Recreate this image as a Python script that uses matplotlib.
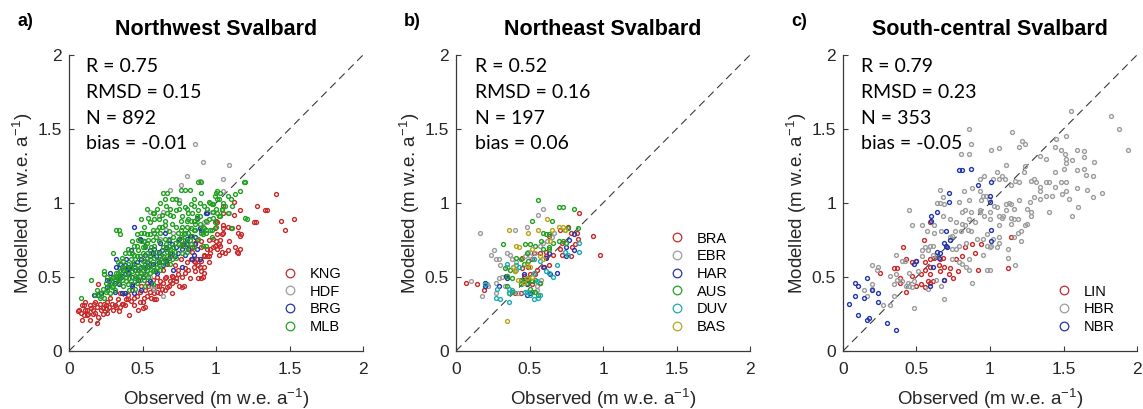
import matplotlib

matplotlib.use("Agg")

import matplotlib.pyplot as plt
import numpy as np
from matplotlib.lines import Line2D
from matplotlib.ticker import FuncFormatter

plt.rcParams["font.family"] = ["Liberation Sans", "DejaVu Sans"]
plt.rcParams["mathtext.fontset"] = "custom"
plt.rcParams["mathtext.rm"] = "Liberation Sans"
plt.rcParams["mathtext.default"] = "regular"

RED = "#c62a2a"
GRAY = "#9c9c9c"
BLUE = "#2436a8"
GREEN = "#23a023"
CYAN = "#1ea9b2"
OLIVE = "#b8a51e"

# ---- panel a: Northwest Svalbard (observed, modelled) ----
KNG = [
    (1.41, 1.06), (1.53, 0.89), (1.47, 0.82), (1.44, 0.88), (1.35, 0.95), (1.28, 0.98),
    (1.27, 0.87), (1.16, 0.95), (1.12, 1.01), (1.12, 0.92), (1.15, 0.84), (1.17, 0.79),
    (1.16, 0.69), (1.15, 0.66), (1.13, 0.70), (1.09, 0.74), (1.08, 0.84), (1.05, 0.83),
    (1.04, 0.79), (1.03, 0.75), (1.03, 0.71), (1.06, 0.66), (1.01, 0.69), (0.99, 0.71),
    (0.95, 0.75), (0.96, 0.66), (0.95, 0.64), (0.92, 0.65), (0.90, 0.70), (0.90, 0.74),
    (0.99, 0.83), (1.01, 0.87), (1.05, 0.93), (0.92, 0.57), (0.90, 0.61), (0.88, 0.58),
    (0.91, 0.50), (0.90, 0.54), (0.92, 0.53), (0.88, 0.49), (0.85, 0.57), (0.83, 0.62),
    (0.82, 0.49), (0.79, 0.53), (0.77, 0.43), (0.75, 0.44), (0.73, 0.49), (0.71, 0.50),
    (0.69, 0.47), (0.65, 0.49), (0.65, 0.41), (0.62, 0.39), (0.61, 0.44), (0.58, 0.39),
    (0.56, 0.36), (0.59, 0.35), (0.52, 0.30), (0.50, 0.29), (0.48, 0.33), (0.44, 0.36),
    (0.41, 0.24), (0.40, 0.35), (0.38, 0.31), (0.36, 0.32), (0.33, 0.35), (0.34, 0.27),
    (0.31, 0.31), (0.28, 0.36), (0.27, 0.30), (0.25, 0.29), (0.23, 0.25), (0.22, 0.28),
    (0.20, 0.23), (0.19, 0.19), (0.19, 0.30), (0.20, 0.45), (0.18, 0.26), (0.15, 0.29),
    (0.14, 0.31), (0.13, 0.25), (0.11, 0.28), (0.10, 0.24), (0.09, 0.21), (0.08, 0.26),
    (0.07, 0.28), (0.09, 0.31), (0.14, 0.21), (0.17, 0.32), (0.24, 0.32), (0.26, 0.33),
    (0.54, 0.44), (0.77, 0.72), (0.84, 0.70), (0.87, 0.75), (0.69, 0.64), (0.67, 0.59),
    (0.64, 0.55), (0.60, 0.50), (0.57, 0.48), (0.53, 0.46), (0.49, 0.44), (0.43, 0.41),
    (0.35, 0.39), (0.67, 0.43), (0.10, 0.31), (0.06, 0.27), (0.12, 0.28), (0.16, 0.28),
    (0.21, 0.32), (0.25, 0.31), (0.29, 0.32), (0.32, 0.30), (0.37, 0.32), (0.39, 0.35),
    (0.47, 0.28), (0.51, 0.36), (0.53, 0.37), (0.58, 0.35), (0.63, 0.42), (0.68, 0.44),
    (0.70, 0.46), (0.73, 0.47), (0.70, 0.39), (0.77, 0.50), (0.79, 0.56), (0.76, 0.62),
    (1.33, 0.95), (1.26, 0.87), (1.05, 0.98), (1.05, 0.85), (1.00, 0.88), (1.05, 0.80),
    (1.01, 0.79), (0.98, 0.76), (1.15, 0.80), (1.16, 0.78), (1.02, 0.72), (0.98, 0.70),
    (1.04, 0.67), (1.08, 0.68), (1.14, 0.67), (0.94, 0.69), (0.94, 0.64), (0.86, 0.73),
    (0.89, 0.57), (0.86, 0.60), (0.86, 0.54), (0.90, 0.49), (0.78, 0.44), (0.87, 0.62),
    (0.92, 0.64), (1.02, 0.65), (0.55, 0.40), (0.60, 0.44), (0.64, 0.46), (0.66, 0.50),
    (0.72, 0.58), (0.74, 0.55), (0.80, 0.60), (0.62, 0.47), (0.57, 0.42), (0.46, 0.37),
    (0.42, 0.34), (0.30, 0.28), (0.26, 0.26), (0.12, 0.24), (0.11, 0.33), (0.16, 0.25),
    (0.18, 0.33), (0.23, 0.29), (0.35, 0.30), (0.44, 0.31), (0.50, 0.33), (0.40, 0.38),
    (0.48, 0.40), (0.52, 0.41), (0.60, 0.40), (0.70, 0.51), (0.74, 0.52), (0.81, 0.55),
    (0.85, 0.61), (0.95, 0.60), (0.96, 0.69), (1.00, 0.74), (1.10, 0.83), (0.84, 0.67),
]
HDF = [
    (0.86, 1.40), (0.91, 1.28), (1.09, 1.26), (0.80, 1.18), (0.76, 1.12), (0.69, 1.09),
    (1.05, 1.16), (1.05, 1.08), (0.73, 1.03), (0.75, 1.02), (1.09, 0.93), (0.55, 0.94),
    (0.61, 0.91), (0.94, 0.87), (0.71, 0.80), (0.35, 0.56), (0.40, 0.53), (0.58, 0.42),
    (0.46, 0.49), (0.33, 0.51), (0.90, 0.80), (0.97, 0.94), (0.89, 1.15), (0.92, 0.87),
    (0.89, 0.83), (0.64, 0.94), (0.34, 0.56), (0.56, 0.44), (0.64, 0.37), (0.48, 0.53),
    (0.52, 0.61), (0.62, 0.76), (0.66, 0.82), (0.80, 0.73), (0.55, 0.50),
]
BRG = [
    (0.44, 0.84), (0.49, 0.75), (0.94, 0.93), (0.90, 0.82), (0.82, 0.78), (0.86, 0.72),
    (0.87, 0.69), (0.77, 0.69), (0.74, 0.66), (0.68, 0.75), (0.62, 0.73), (0.58, 0.69),
    (0.52, 0.65), (0.49, 0.62), (0.44, 0.59), (0.41, 0.57), (0.37, 0.55), (0.35, 0.59),
    (0.32, 0.57), (0.28, 0.53), (0.26, 0.48), (0.31, 0.46), (0.43, 0.44), (0.47, 0.48),
    (0.53, 0.57), (0.56, 0.59), (0.65, 0.62), (0.69, 0.66), (0.73, 0.70), (0.79, 0.65),
    (0.84, 0.62), (0.60, 0.53), (0.56, 0.46), (0.49, 0.41), (0.44, 0.39), (0.22, 0.39),
    (0.17, 0.38), (0.77, 0.57), (0.71, 0.55), (0.36, 0.39), (0.93, 0.93), (0.87, 0.90),
    (0.89, 0.83), (0.80, 0.76), (0.86, 0.77), (0.81, 0.69), (0.85, 0.65), (0.89, 0.62),
    (0.80, 0.72), (0.39, 0.62), (0.40, 0.56), (0.38, 0.52), (0.35, 0.49), (0.27, 0.47),
    (0.32, 0.62), (0.48, 0.76), (0.51, 0.74), (0.52, 0.71), (0.55, 0.68), (0.65, 0.80),
    (0.61, 0.67), (0.66, 0.61), (0.59, 0.54), (0.55, 0.47), (0.43, 0.45), (0.38, 0.39),
    (0.20, 0.38), (0.26, 0.43), (0.31, 0.40), (0.36, 0.51), (0.40, 0.53), (0.43, 0.50),
    (0.45, 0.55), (0.48, 0.56), (0.50, 0.50), (0.53, 0.60), (0.55, 0.64), (0.57, 0.59),
    (0.59, 0.64), (0.61, 0.60), (0.63, 0.68), (0.66, 0.70), (0.68, 0.63), (0.70, 0.72),
    (0.72, 0.64), (0.75, 0.76), (0.78, 0.72), (0.42, 0.68), (0.46, 0.60), (0.38, 0.58),
    (0.30, 0.50), (0.34, 0.45), (0.52, 0.56), (0.64, 0.58), (0.83, 0.78), (0.57, 0.66),
]
MLB = [
    (1.20, 1.14), (1.16, 1.08), (1.21, 0.89), (1.03, 1.07), (1.01, 1.08), (0.99, 1.05),
    (1.01, 1.03), (0.97, 0.99), (0.94, 0.96), (1.01, 0.93), (1.04, 0.96), (1.05, 1.00),
    (1.10, 1.03), (1.11, 0.98), (1.08, 0.93), (1.03, 0.91), (0.99, 0.87), (0.96, 0.82),
    (0.93, 0.80), (0.90, 0.80), (0.91, 0.84), (0.87, 0.89), (0.84, 0.93), (0.85, 0.98),
    (0.85, 1.03), (0.90, 1.07), (0.90, 1.14), (0.82, 1.09), (0.79, 1.09), (0.76, 1.09),
    (0.73, 1.03), (0.70, 1.03), (0.67, 1.07), (0.64, 1.07), (0.65, 1.03), (0.62, 1.00),
    (0.60, 0.96), (0.57, 0.93), (0.53, 0.96), (0.49, 0.89), (0.55, 0.87), (0.58, 0.89),
    (0.61, 0.89), (0.65, 0.88), (0.67, 0.93), (0.69, 0.96), (0.71, 0.91), (0.75, 0.96),
    (0.77, 0.91), (0.81, 0.93), (0.81, 0.89), (0.76, 0.88), (0.73, 0.84), (0.76, 0.82),
    (0.79, 0.80), (0.82, 0.75), (0.85, 0.82), (0.32, 0.82), (0.34, 0.82), (0.35, 0.79),
    (0.30, 0.66), (0.40, 0.69), (0.43, 0.66), (0.44, 0.71), (0.47, 0.75), (0.49, 0.80),
    (0.51, 0.80), (0.53, 0.79), (0.51, 0.74), (0.54, 0.75), (0.58, 0.80), (0.60, 0.82),
    (0.62, 0.80), (0.65, 0.76), (0.61, 0.74), (0.58, 0.71), (0.56, 0.70), (0.53, 0.66),
    (0.50, 0.66), (0.48, 0.64), (0.45, 0.62), (0.43, 0.59), (0.40, 0.59), (0.37, 0.57),
    (0.35, 0.54), (0.32, 0.53), (0.30, 0.50), (0.26, 0.50), (0.24, 0.52), (0.24, 0.54),
    (0.15, 0.48), (0.08, 0.36), (0.21, 0.39), (0.26, 0.41), (0.28, 0.46), (0.33, 0.46),
    (0.36, 0.48), (0.39, 0.50), (0.41, 0.52), (0.43, 0.54), (0.45, 0.51), (0.47, 0.55),
    (0.49, 0.53), (0.51, 0.57), (0.53, 0.55), (0.56, 0.59), (0.57, 0.54), (0.60, 0.57),
    (0.62, 0.62), (0.67, 0.64), (0.70, 0.66), (0.71, 0.70), (0.74, 0.75), (0.76, 0.71),
    (0.68, 0.71), (0.66, 0.69), (0.19, 0.41), (0.18, 0.38), (0.22, 0.37), (0.24, 0.36),
    (0.28, 0.39), (0.31, 0.41), (0.37, 0.44), (0.40, 0.45), (0.42, 0.47), (0.46, 0.46),
    (0.48, 0.48), (0.51, 0.48), (0.54, 0.50), (0.57, 0.45), (0.52, 0.44), (0.45, 0.42),
    (0.41, 0.41), (1.19, 1.14), (1.20, 0.90), (1.00, 1.07), (0.88, 1.14), (0.89, 1.00),
    (0.96, 1.00), (0.98, 0.99), (1.02, 1.03), (0.98, 0.94), (1.02, 0.91), (1.04, 0.95),
    (1.11, 0.83), (1.00, 0.84), (0.97, 0.82), (0.93, 0.82), (0.97, 0.77), (0.93, 0.88),
    (0.87, 0.91), (0.85, 0.88), (0.80, 0.96), (0.83, 0.99), (0.80, 0.88), (0.86, 0.82),
    (0.83, 0.83), (0.91, 0.71), (0.93, 0.71), (0.85, 0.70), (0.80, 0.70), (0.78, 0.73),
    (0.91, 0.79), (0.89, 0.86), (0.30, 0.44), (0.33, 0.49), (0.35, 0.51), (0.38, 0.53),
    (0.39, 0.47), (0.41, 0.49), (0.42, 0.56), (0.44, 0.57), (0.45, 0.49), (0.46, 0.53),
    (0.47, 0.58), (0.48, 0.51), (0.49, 0.57), (0.50, 0.55), (0.50, 0.61), (0.52, 0.59),
    (0.52, 0.52), (0.53, 0.63), (0.54, 0.57), (0.55, 0.62), (0.55, 0.53), (0.56, 0.66),
    (0.57, 0.57), (0.58, 0.63), (0.58, 0.55), (0.59, 0.67), (0.60, 0.61), (0.61, 0.58),
    (0.62, 0.66), (0.63, 0.60), (0.64, 0.70), (0.64, 0.64), (0.66, 0.72), (0.66, 0.62),
    (0.67, 0.67), (0.68, 0.76), (0.69, 0.69), (0.70, 0.62), (0.71, 0.77), (0.72, 0.73),
    (0.72, 0.67), (0.74, 0.80), (0.75, 0.72), (0.76, 0.77), (0.77, 0.84), (0.78, 0.79),
    (0.79, 0.75), (0.80, 0.84), (0.81, 0.80), (0.83, 0.88), (0.84, 0.78), (0.86, 0.86),
    (0.88, 0.95), (0.89, 0.91), (0.92, 0.98), (0.95, 1.01), (0.70, 0.86), (0.68, 0.81),
    (0.63, 0.84), (0.59, 0.77), (0.57, 0.75), (0.55, 0.79), (0.52, 0.70), (0.50, 0.70),
    (0.47, 0.68), (0.46, 0.64), (0.44, 0.65), (0.42, 0.62), (0.39, 0.56), (0.36, 0.56),
    (0.34, 0.49), (0.31, 0.47), (0.29, 0.43), (0.27, 0.44), (0.25, 0.40), (0.23, 0.42),
    (0.21, 0.36), (0.25, 0.46), (0.29, 0.49), (0.33, 0.53), (0.37, 0.61), (0.41, 0.66),
    (0.46, 0.71), (0.49, 0.74), (0.53, 0.73), (0.57, 0.82), (0.61, 0.84), (0.65, 0.85),
    (0.69, 0.92), (0.73, 0.95), (0.75, 1.00), (0.79, 0.97), (0.66, 0.98), (0.63, 0.92),
    (0.58, 0.93), (0.54, 0.90), (0.51, 0.84), (0.46, 0.79), (0.43, 0.74), (0.38, 0.66),
    (0.36, 0.63), (0.33, 0.60), (0.62, 0.55), (0.65, 0.59), (0.69, 0.59), (0.73, 0.63),
    (0.77, 0.66), (0.80, 0.67), (0.83, 0.72), (0.88, 0.76), (0.92, 0.83), (0.95, 0.89),
    (0.98, 0.90), (1.06, 0.98), (1.08, 1.05), (1.13, 1.06), (1.00, 0.96),
]

# ---- panel b: Northeast Svalbard ----
BRA = [
    (0.84, 0.93), (0.93, 0.78), (0.98, 0.65), (0.83, 0.76), (0.78, 0.80), (0.76, 0.84),
    (0.71, 0.82), (0.63, 0.78), (0.71, 0.69), (0.72, 0.73), (0.79, 0.70), (0.81, 0.72),
    (0.78, 0.64), (0.72, 0.65), (0.66, 0.65), (0.61, 0.67), (0.61, 0.64), (0.57, 0.66),
    (0.53, 0.66), (0.52, 0.62), (0.45, 0.63), (0.45, 0.56), (0.49, 0.57), (0.46, 0.51),
    (0.48, 0.48), (0.50, 0.52), (0.52, 0.45), (0.54, 0.52), (0.55, 0.55), (0.59, 0.57),
    (0.63, 0.58), (0.57, 0.46), (0.07, 0.46), (0.14, 0.45), (0.19, 0.41), (0.44, 0.39),
    (0.40, 0.39), (0.82, 0.80),
]
EBR = [
    (0.16, 0.80), (0.59, 0.96), (0.56, 0.92), (0.40, 0.82), (0.48, 0.84), (0.26, 0.68),
    (0.24, 0.65), (0.27, 0.62), (0.29, 0.62), (0.30, 0.58), (0.35, 0.66), (0.37, 0.65),
    (0.38, 0.62), (0.41, 0.60), (0.35, 0.57), (0.39, 0.57), (0.41, 0.55), (0.47, 0.64),
    (0.50, 0.64), (0.53, 0.62), (0.54, 0.66), (0.57, 0.71), (0.59, 0.73), (0.62, 0.74),
    (0.65, 0.77), (0.67, 0.80), (0.48, 0.59), (0.49, 0.67), (0.10, 0.47), (0.21, 0.45),
    (0.18, 0.37), (0.22, 0.44), (0.27, 0.46), (0.29, 0.49), (0.31, 0.50), (0.33, 0.44),
    (0.27, 0.39), (0.55, 0.44), (0.55, 0.41), (0.42, 0.39), (0.39, 0.40), (0.58, 0.48),
]
HAR = [
    (0.80, 0.79), (0.77, 0.75), (0.75, 0.70), (0.75, 0.64), (0.80, 0.68), (0.69, 0.53),
    (0.64, 0.52), (0.60, 0.57), (0.46, 0.52), (0.45, 0.48), (0.48, 0.45), (0.50, 0.39),
    (0.48, 0.38), (0.34, 0.51), (0.35, 0.49), (0.29, 0.44), (0.20, 0.44), (0.20, 0.46),
    (0.61, 0.63), (0.63, 0.66),
]
AUS = [
    (0.56, 1.02), (0.70, 0.97), (0.73, 0.97), (0.80, 0.96), (0.65, 0.88), (0.52, 0.88),
    (0.59, 0.80), (0.61, 0.79), (0.63, 0.79), (0.83, 0.83), (0.74, 0.82), (0.76, 0.83),
    (0.32, 0.72), (0.47, 0.72), (0.50, 0.72), (0.54, 0.71), (0.58, 0.74), (0.63, 0.70),
    (0.66, 0.73), (0.70, 0.74), (0.73, 0.74), (0.75, 0.73), (0.59, 0.69), (0.63, 0.69),
    (0.48, 0.66), (0.41, 0.63), (0.44, 0.62), (0.49, 0.61), (0.46, 0.59), (0.33, 0.56),
    (0.37, 0.55), (0.40, 0.54), (0.35, 0.51), (0.44, 0.48), (0.46, 0.47), (0.48, 0.46),
    (0.44, 0.45), (0.52, 0.47), (0.54, 0.48), (0.57, 0.46), (0.50, 0.42), (0.52, 0.40),
    (0.36, 0.39), (0.38, 0.40), (0.56, 0.38), (0.54, 0.40), (0.38, 0.49), (0.35, 0.44),
    (0.49, 0.49),
]
DUV = [
    (0.84, 0.73), (0.84, 0.67), (0.76, 0.65), (0.74, 0.67), (0.69, 0.58), (0.66, 0.50),
    (0.63, 0.53), (0.61, 0.54), (0.57, 0.61), (0.53, 0.62), (0.55, 0.47), (0.56, 0.36),
    (0.53, 0.35), (0.50, 0.38), (0.47, 0.40), (0.48, 0.40), (0.57, 0.38), (0.36, 0.42),
    (0.36, 0.39), (0.38, 0.41), (0.27, 0.36), (0.30, 0.35), (0.36, 0.33), (0.20, 0.45),
    (0.28, 0.42), (0.35, 0.59), (0.41, 0.58), (0.43, 0.57), (0.53, 0.53),
]
BAS = [
    (0.35, 0.20), (0.36, 0.82), (0.41, 0.71), (0.49, 0.80), (0.56, 0.82), (0.62, 0.89),
    (0.65, 0.82), (0.70, 0.84), (0.73, 0.84), (0.74, 0.82), (0.43, 0.70), (0.52, 0.69),
    (0.57, 0.64), (0.59, 0.62), (0.48, 0.58), (0.50, 0.57), (0.39, 0.57), (0.40, 0.54),
    (0.42, 0.48), (0.52, 0.50), (0.48, 0.49), (0.46, 0.46), (0.64, 0.74),
]

# ---- panel c: South-central Svalbard ----
LIN = [
    (0.55, 0.75), (0.41, 0.70), (0.59, 0.87), (0.43, 0.62), (0.47, 0.60), (0.50, 0.61),
    (0.35, 0.56), (0.37, 0.56), (0.25, 0.53), (0.56, 0.60), (0.59, 0.62), (0.62, 0.63),
    (0.66, 0.62), (0.68, 0.63), (0.65, 0.58), (0.59, 0.57), (0.59, 0.52), (0.66, 0.54),
    (0.69, 0.57), (0.73, 0.56), (0.75, 0.49), (0.72, 0.52), (0.77, 0.62), (0.81, 0.64),
    (0.83, 0.70), (0.88, 0.72), (0.94, 0.72), (0.90, 0.66), (0.92, 0.55), (0.39, 0.49),
    (0.39, 0.46), (0.43, 0.40), (0.47, 0.51), (0.50, 0.44), (0.53, 0.45), (0.58, 0.47),
    (0.59, 0.46), (0.61, 0.47), (0.56, 0.43), (0.53, 0.52), (0.56, 0.55), (0.78, 0.54),
    (0.69, 0.48), (1.14, 0.77), (1.12, 0.56),
]
HBR = [
    (1.55, 1.62), (1.82, 1.59), (1.88, 1.50), (1.94, 1.36), (1.15, 1.48), (1.22, 1.42),
    (1.24, 1.40), (1.20, 1.38), (1.06, 1.37), (1.01, 1.36), (1.45, 1.43), (1.52, 1.45),
    (1.44, 1.38), (1.48, 1.36), (1.51, 1.33), (1.59, 1.36), (1.64, 1.35), (1.64, 1.31),
    (1.52, 1.30), (1.56, 1.29), (1.52, 1.27), (1.71, 1.28), (1.34, 1.32), (1.38, 1.30),
    (1.11, 1.26), (1.24, 1.25), (1.23, 1.21), (1.05, 1.21), (1.08, 1.18), (1.02, 1.16),
    (1.06, 1.16), (1.10, 1.16), (1.17, 1.15), (1.20, 1.14), (1.14, 1.12), (1.28, 1.15),
    (1.30, 1.16), (1.31, 1.14), (1.34, 1.11), (1.38, 1.14), (1.40, 1.14), (1.48, 1.14),
    (1.52, 1.14), (1.44, 1.21), (1.50, 1.23), (1.59, 1.22), (1.64, 1.23), (1.65, 1.19),
    (1.70, 1.18), (1.44, 1.11), (1.34, 1.08), (1.30, 1.04), (1.34, 1.03), (1.38, 1.05),
    (1.42, 1.05), (1.49, 1.06), (1.52, 1.08), (1.54, 1.03), (1.59, 1.10), (1.66, 1.09),
    (1.70, 1.04), (1.76, 1.07), (1.60, 0.97), (1.56, 0.91), (1.40, 0.94), (1.20, 1.02),
    (1.27, 1.01), (1.11, 0.99), (1.13, 1.00), (1.14, 0.99), (1.16, 0.96), (1.03, 0.98),
    (1.05, 0.97), (1.06, 0.91), (1.08, 0.90), (1.09, 0.91), (1.11, 0.95), (1.25, 0.96),
    (1.28, 0.94), (1.28, 0.91), (1.14, 0.90), (1.16, 0.89), (1.19, 0.89), (1.14, 0.86),
    (1.24, 0.85), (1.25, 0.86), (1.06, 0.85), (1.19, 0.80), (1.21, 0.81), (1.16, 0.77),
    (1.21, 0.74), (1.06, 0.77), (1.02, 0.76), (1.06, 0.73), (1.01, 0.71), (1.05, 0.70),
    (1.12, 0.69), (1.12, 0.63), (1.17, 0.58),
    (0.66, 1.09), (0.68, 1.04), (0.64, 1.00), (0.66, 1.00), (0.69, 0.99), (0.82, 1.08),
    (0.79, 1.01), (0.86, 1.02), (0.88, 1.10), (0.93, 1.08), (0.95, 1.05), (0.97, 1.05),
    (0.94, 1.02), (0.99, 1.03), (0.45, 0.95), (0.47, 0.85), (0.54, 0.85), (0.62, 0.85),
    (0.68, 0.91), (0.73, 0.89), (0.77, 0.87), (0.81, 0.94), (0.83, 0.95), (0.87, 0.94),
    (0.86, 0.89), (0.87, 0.81), (0.90, 0.87), (0.93, 0.94), (0.93, 0.95), (0.96, 0.91),
    (1.00, 0.94), (1.00, 0.89), (0.81, 0.86), (0.83, 0.85), (0.85, 0.82), (0.80, 0.81),
    (0.76, 0.81), (0.74, 0.78), (0.73, 0.77), (0.67, 0.81), (0.62, 0.80), (0.57, 0.81),
    (0.74, 0.69), (0.77, 0.69), (0.79, 0.71), (0.84, 0.73), (0.91, 0.76), (0.95, 0.76),
    (0.98, 0.79), (0.95, 0.65), (0.98, 0.71), (1.00, 0.70), (0.86, 0.62), (0.86, 0.55),
    (0.84, 0.57), (0.81, 0.59), (0.74, 0.62), (0.79, 0.60), (0.98, 0.55), (1.00, 0.55),
    (0.88, 0.46), (0.69, 0.35), (0.48, 0.29), (0.36, 0.65), (0.40, 0.61), (0.42, 0.61),
    (0.54, 0.68), (0.56, 0.70), (0.59, 0.71), (0.61, 0.71), (0.58, 0.68), (0.54, 0.64),
    (0.61, 0.65), (0.64, 0.64), (0.51, 0.54), (0.45, 0.53), (0.44, 0.46), (0.48, 0.47),
    (0.45, 0.44), (0.47, 0.43), (0.43, 0.44), (0.40, 0.47), (0.36, 0.52), (0.37, 0.48),
    (0.35, 0.45), (0.63, 0.48), (0.67, 0.44), (0.58, 0.42), (0.32, 0.51), (0.20, 0.58),
    (0.24, 0.57), (0.23, 0.55), (0.20, 0.45), (0.20, 0.42), (0.14, 0.41), (0.16, 0.37),
    (0.27, 0.31), (0.32, 0.31), (0.35, 0.37), (0.86, 1.50), (0.87, 1.40), (0.80, 1.33),
    (0.86, 1.33), (0.96, 1.18), (0.93, 1.16),
]
NBR = [
    (0.04, 0.32), (0.10, 0.24), (0.16, 0.21), (0.18, 0.22), (0.30, 0.19), (0.36, 0.14),
    (0.08, 0.46), (0.10, 0.44), (0.08, 0.37), (0.14, 0.36), (0.16, 0.49), (0.20, 0.41),
    (0.24, 0.33), (0.24, 0.39), (0.72, 1.07), (0.72, 1.01), (0.64, 0.94), (0.60, 0.91),
    (0.60, 0.88), (0.70, 0.81), (0.69, 0.73), (0.70, 0.71), (0.71, 0.70), (0.64, 0.67),
    (0.65, 0.63), (0.61, 0.57), (0.50, 0.61), (0.48, 0.59), (0.69, 0.48), (0.59, 0.44),
    (0.92, 1.12), (1.01, 1.14), (1.01, 0.74), (1.01, 0.82), (1.00, 1.05), (1.00, 1.01),
    (0.79, 1.22), (0.87, 1.23), (0.81, 1.22), (0.73, 0.75), (0.66, 0.66),
]

TITLES = ["Northwest Svalbard", "Northeast Svalbard", "South-central Svalbard"]
LETTERS = ["a)", "b)", "c)"]
STAT_R = ["0.75", "0.52", "0.79"]
STAT_RMSD = ["0.15", "0.16", "0.23"]
STAT_N = ["892", "197", "353"]
STAT_BIAS = ["-0.01", "0.06", "-0.05"]
TICKS = [0, 0.5, 1, 1.5, 2]

panels = [
    [("KNG", KNG, RED), ("HDF", HDF, GRAY), ("BRG", BRG, BLUE), ("MLB", MLB, GREEN)],
    [("BRA", BRA, RED), ("EBR", EBR, GRAY), ("HAR", HAR, BLUE),
     ("AUS", AUS, GREEN), ("DUV", DUV, CYAN), ("BAS", BAS, OLIVE)],
    [("LIN", LIN, RED), ("HBR", HBR, GRAY), ("NBR", NBR, BLUE)],
]

fig = plt.figure(figsize=(11.43, 4.09), dpi=100)
lefts = [69, 456, 843]
stat_x = [0.116, 0.129, 0.122]
ink = "#262626"

for i, groups in enumerate(panels):
    ax = fig.add_axes([lefts[i] / 1143, 58 / 409, 294 / 1143, 296 / 409])
    ax.plot([0, 2], [0, 2], color="#3a3a3a", lw=0.8, dashes=(7, 4.5), zorder=1)
    handles = []
    for name, pts, col in groups:
        arr = np.array(pts)
        ax.plot(arr[:, 0], arr[:, 1], "o", ms=2.8, mew=1.0, mfc="none", mec=col, zorder=2)
        handles.append(Line2D([], [], ls="none", marker="o", ms=6.2, mew=0.9,
                              mfc="none", mec=col, label=name))
    ax.set_xlim(0, 2)
    ax.set_ylim(0, 2)
    ax.set_xticks(TICKS)
    ax.set_yticks(TICKS)
    fmt = FuncFormatter(lambda v, p: f"{v:g}")
    ax.xaxis.set_major_formatter(fmt)
    ax.yaxis.set_major_formatter(fmt)
    ax.spines["top"].set_visible(False)
    ax.spines["right"].set_visible(False)
    for s in ("left", "bottom"):
        ax.spines[s].set_color("#3a3a3a")
        ax.spines[s].set_linewidth(0.9)
    ax.tick_params(direction="in", length=3.5, width=0.8, color="#3a3a3a",
                   labelsize=12.5, labelcolor=ink)
    ax.tick_params(axis="x", pad=8)
    ax.tick_params(axis="y", pad=5)
    ax.set_xlabel("Observed (m w.e. a$^{-1}$)", fontsize=13.5, color=ink, labelpad=7)
    ax.set_ylabel("Modelled (m w.e. a$^{-1}$)", fontsize=13.5, color=ink, labelpad=2)
    ax.set_title(TITLES[i], fontsize=15.5, fontweight="bold", pad=14.5, color="black")

    lines = [f"R = {STAT_R[i]}", f"RMSD = {STAT_RMSD[i]}",
             f"N = {STAT_N[i]}", f"bias = {STAT_BIAS[i]}"]
    for k, txt in enumerate(lines):
        ax.text(stat_x[i], 1.884 - 0.1735 * k, txt, fontsize=14, family=["Lato", "DejaVu Sans"],
                color="black", va="baseline", ha="left")

    ax.legend(handles=handles, loc="lower left", bbox_to_anchor=(0.728, 0.058),
              frameon=False, fontsize=10.5, borderpad=0, borderaxespad=0,
              handlelength=1.0, handletextpad=0.85, labelspacing=0.25)

    fig.text((lefts[i] - 52) / 1143, 1 - 21 / 409, LETTERS[i], fontsize=13,
             fontweight="bold", va="center", ha="left")

fig.savefig("out.png", dpi=100)
